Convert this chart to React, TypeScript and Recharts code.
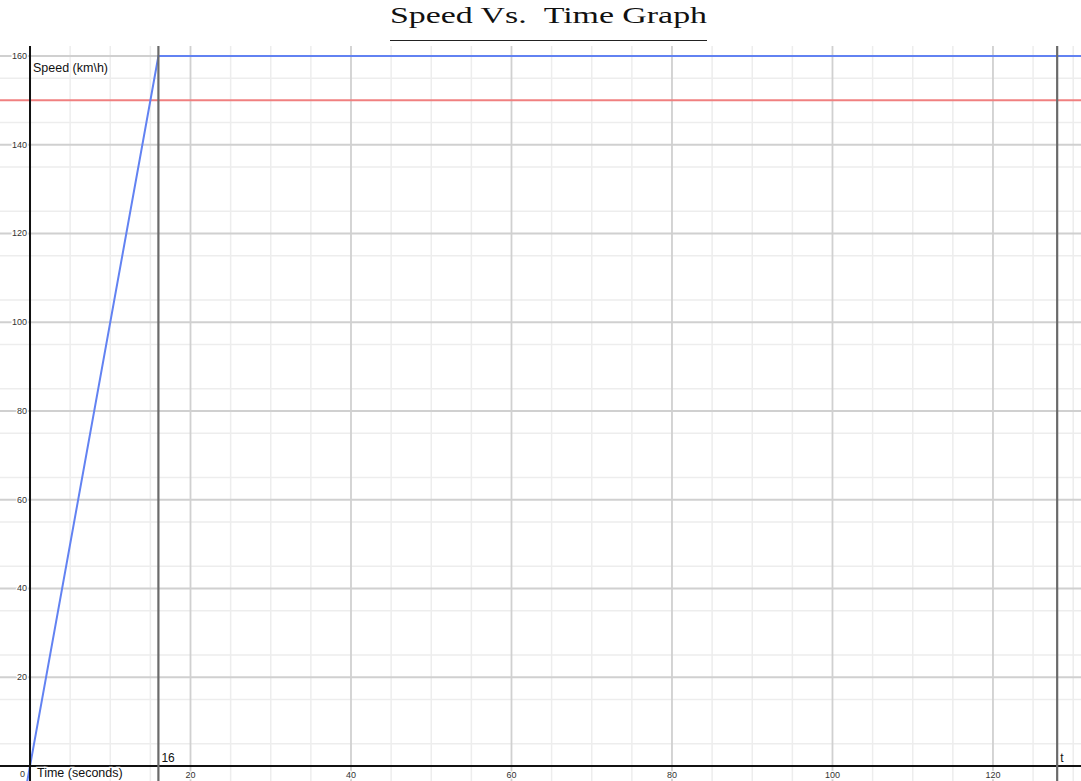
import React from 'react';
import {
  ComposedChart,
  Line,
  XAxis,
  YAxis,
  CartesianGrid,
  ReferenceLine,
  ReferenceDot,
} from 'recharts';

// Speed (km\h) over time (seconds): accelerate to 160 over 16 s, then hold
const speedCurve = [
  { t: -0.35, v: -3.5 },
  { t: 0, v: 0 },
  { t: 16, v: 160 },
  { t: 131, v: 160 },
];
// Speed limit line
const speedLimit = [
  { t: -4, v: 150 },
  { t: 131, v: 150 },
];

const xTickLabels = [20, 40, 60, 80, 100, 120];
const yTickLabels = [20, 40, 60, 80, 100, 120, 140, 160];
const xMinorGrid = [5, 10, 15, 25, 30, 35, 45, 50, 55, 65, 70, 75, 85, 90, 95, 105, 110, 115, 125, 130];
const yMinorGrid = [5, 10, 15, 25, 30, 35, 45, 50, 55, 65, 70, 75, 85, 90, 95, 105, 110, 115, 125, 130, 135, 145, 150, 155];
const markerTimes = [16, 128];
const markerLabels = ['16', 't'];

const xDomain: [number, number] = [-3.74, 130.97];
const yDomain: [number, number] = [-3.38, 162.25];

const W = 1081;
const H = 781;
const TOP = 46;

const sans = 'Arial, "Liberation Sans", Helvetica, sans-serif';

const makeText =
  (dx: number, dy: number, anchor: 'start' | 'middle' | 'end', size: number, fill: string) =>
  (props: any) => {
    const vb = props.viewBox || {};
    const cx = (vb.x ?? 0) + (vb.width ?? 0) / 2;
    const cy = (vb.y ?? 0) + (vb.height ?? 0) / 2;
    return (
      <text
        x={cx + dx}
        y={cy + dy}
        textAnchor={anchor}
        dominantBaseline="central"
        fontFamily={sans}
        fontSize={size}
        fill={fill}
        stroke="#ffffff"
        strokeWidth={2.5}
        paintOrder="stroke"
      >
        {props.value}
      </text>
    );
  };

export default function App() {
  return (
    <div style={{ position: 'absolute', left: 0, top: 0, width: W, height: H, background: '#fff' }}>
      <svg width={W} height={TOP} style={{ position: 'absolute', left: 0, top: 0 }}>
        <text
          x={548.5}
          y={23}
          textAnchor="middle"
          fontFamily='"Liberation Serif", "DejaVu Serif", serif'
          fontSize={23}
          fill="#111"
          textLength={317}
          lengthAdjust="spacingAndGlyphs"
        >
          {'Speed Vs.\u00A0\u00A0Time Graph'}
        </text>
        <line x1={390} x2={707} y1={40.5} y2={40.5} stroke="#222" strokeWidth={1.2} />
      </svg>
      <div style={{ position: 'absolute', left: 0, top: 0 }}>
        <ComposedChart width={W} height={H} margin={{ top: TOP, right: 0, bottom: 0, left: 0 }}>
          <XAxis type="number" dataKey="t" domain={xDomain} hide allowDataOverflow />
          <YAxis type="number" dataKey="v" domain={yDomain} hide allowDataOverflow />
          <CartesianGrid
            verticalValues={xMinorGrid}
            horizontalValues={yMinorGrid}
            stroke="#ededed"
            strokeWidth={1.5}
            fill="none"
          />
          <CartesianGrid
            verticalValues={xTickLabels}
            horizontalValues={yTickLabels}
            stroke="#d0d0d0"
            strokeWidth={1.8}
            fill="none"
          />
          <Line
            data={speedLimit}
            dataKey="v"
            type="linear"
            stroke="#f08080"
            strokeWidth={2}
            dot={false}
            activeDot={false}
            isAnimationActive={false}
          />
          <Line
            data={speedCurve}
            dataKey="v"
            type="linear"
            stroke="#6282f2"
            strokeWidth={2}
            dot={false}
            activeDot={false}
            isAnimationActive={false}
          />
          <ReferenceLine x={0} stroke="#111" strokeWidth={2} />
          <ReferenceLine y={0} stroke="#111" strokeWidth={2} />
          {markerTimes.map((m) => (
            <ReferenceLine key={'m' + m} x={m} stroke="#6a6a6a" strokeWidth={2.2} />
          ))}
          {yTickLabels.map((v) => (
            <ReferenceDot
              key={'y' + v}
              x={0}
              y={v}
              r={0}
              fill="none"
              stroke="none"
              label={{ value: String(v), content: makeText(-3, 0, 'end', 9, '#333') }}
            />
          ))}
          {xTickLabels.map((t) => (
            <ReferenceDot
              key={'x' + t}
              x={t}
              y={0}
              r={0}
              fill="none"
              stroke="none"
              label={{ value: String(t), content: makeText(0, 8.5, 'middle', 9, '#333') }}
            />
          ))}
          <ReferenceDot
            x={0}
            y={0}
            r={0}
            fill="none"
            stroke="none"
            label={{ value: '0', content: makeText(-7.5, 8, 'middle', 9, '#333') }}
          />
          <ReferenceDot
            x={0}
            y={0}
            r={0}
            fill="none"
            stroke="none"
            label={{ value: 'Time (seconds)', content: makeText(7, 7, 'start', 12.5, '#111') }}
          />
          <ReferenceDot
            x={0}
            y={160}
            r={0}
            fill="none"
            stroke="none"
            label={{ value: 'Speed (km\\h)', content: makeText(3, 12, 'start', 12.5, '#111') }}
          />
          {markerTimes.map((m, i) => (
            <ReferenceDot
              key={'ml' + m}
              x={m}
              y={0}
              r={0}
              fill="none"
              stroke="none"
              label={{ value: markerLabels[i], content: makeText(3, -8, 'start', 12, '#111') }}
            />
          ))}
        </ComposedChart>
      </div>
    </div>
  );
}
